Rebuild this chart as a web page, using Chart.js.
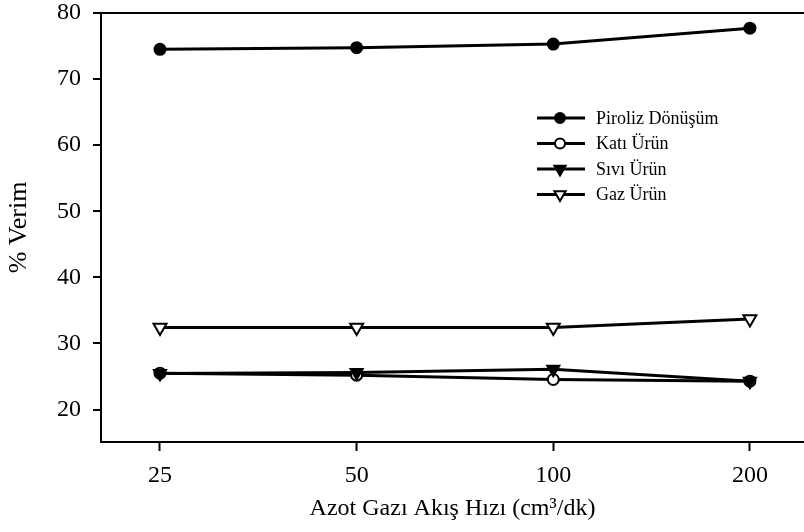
<!DOCTYPE html>
<html>
<head>
<meta charset="utf-8">
<script src="https://cdn.jsdelivr.net/npm/chart.js@4/dist/chart.umd.min.js"></script>
<style>
    html, body { margin: 0; padding: 0; background: #fff; }
    #wrap { width: 804px; height: 532px; }
</style>
</head>
<body>
<div id="wrap"><canvas id="chartVerim" width="804" height="532"></canvas></div>
<script>
    // akış hızları (kategori) ve verim serileri
    const akisHizlari = ['25', '50', '100', '200'];
    const pirolizDonusum = [74.5, 74.75, 75.3, 77.7];
    const katiUrun = [25.5, 25.2, 24.55, 24.3];
    const siviUrun = [25.45, 25.6, 26.1, 24.3];
    const gazUrun = [32.4, 32.4, 32.4, 33.7];
    const verimTicks = [20, 30, 40, 50, 60, 70, 80];

    const FONT = "'Liberation Serif', 'Times New Roman', serif";
    const SIYAH = '#000';

    const noktalar = (seri) => seri.map((v, i) => ({ x: i, y: v }));

    // legend: çizgi + işaret, sağ üst köşede
    const legendCizgili = {
        id: 'legendCizgili',
        afterDraw(chart) {
            const { ctx } = chart;
            const x0 = 537, x1 = 585, xm = 560, xt = 596;
            const satirlar = [118, 143.5, 169, 194.5];
            ctx.save();
            chart.data.datasets.forEach((ds, i) => {
                const y = satirlar[i];
                ctx.strokeStyle = ds.borderColor;
                ctx.lineWidth = 3;
                ctx.beginPath();
                ctx.moveTo(x0, y);
                ctx.lineTo(x1, y);
                ctx.stroke();
                isaretCiz(ctx, ds.pointStyle, xm, y, ds.pointStyle === 'circle' ? 5 : 6.5,
                    ds.pointRotation || 0, ds.pointBackgroundColor, ds.pointBorderColor);
                ctx.fillStyle = SIYAH;
                ctx.font = '18px ' + FONT;
                ctx.textBaseline = 'middle';
                ctx.textAlign = 'left';
                ctx.fillText(ds.label, xt, y + 1);
            });
            ctx.restore();
        }
    };

    function isaretCiz(ctx, stil, x, y, r, rot, dolgu, kenar) {
        ctx.beginPath();
        if (stil === 'circle') {
            ctx.arc(x, y, r, 0, Math.PI * 2);
        } else {
            let rad = rot * Math.PI / 180;
            ctx.moveTo(x + Math.sin(rad) * r, y - Math.cos(rad) * r);
            rad += Math.PI * 2 / 3;
            ctx.lineTo(x + Math.sin(rad) * r, y - Math.cos(rad) * r);
            rad += Math.PI * 2 / 3;
            ctx.lineTo(x + Math.sin(rad) * r, y - Math.cos(rad) * r);
            ctx.closePath();
        }
        ctx.fillStyle = dolgu;
        ctx.fill();
        ctx.lineWidth = 2;
        ctx.strokeStyle = kenar;
        ctx.stroke();
    }

    const seri = (label, data, stil, dolu, extra) => Object.assign({
        label,
        data: noktalar(data),
        borderColor: SIYAH,
        borderWidth: 3,
        pointStyle: stil,
        pointRadius: stil === 'circle' ? 5.5 : 7.5,
        pointBorderWidth: 2,
        pointBackgroundColor: dolu ? SIYAH : '#fff',
        pointBorderColor: SIYAH,
        tension: 0,
        clip: false
    }, extra || {});

    new Chart(document.getElementById('chartVerim'), {
        type: 'line',
        data: {
            datasets: [
                seri('Piroliz Dönüşüm', pirolizDonusum, 'circle', true, { order: 0 }),
                seri('Katı Ürün', katiUrun, 'circle', false, { order: 2 }),
                seri('Sıvı Ürün', siviUrun, 'triangle', true, { pointRotation: 180, pointRadius: 7, order: 1 }),
                seri('Gaz Ürün', gazUrun, 'triangle', false, { pointRotation: 180, order: 3 })
            ]
        },
        options: {
            responsive: false,
            devicePixelRatio: 1,
            animation: false,
            layout: { autoPadding: false, padding: { top: 13, left: 0, right: 0, bottom: 0 } },
            plugins: { legend: { display: false }, tooltip: { enabled: false } },
            scales: {
                x: {
                    type: 'linear',
                    min: -0.3,
                    max: 3.275,
                    afterBuildTicks: (axis) => { axis.ticks = akisHizlari.map((_, i) => ({ value: i })); },
                    afterFit: (axis) => {
                        axis.height = 90;
                        axis.paddingLeft = 0;
                        axis.paddingRight = 0;
                    },
                    ticks: {
                        callback: (v) => akisHizlari[v],
                        color: SIYAH,
                        font: { family: FONT, size: 24 },
                        padding: 10,
                        maxRotation: 0
                    },
                    grid: { drawOnChartArea: false, drawTicks: true, tickLength: 9, tickWidth: 2, tickColor: SIYAH },
                    border: { display: true, color: SIYAH, width: 2 },
                    title: {
                        display: true,
                        text: 'Azot Gazı Akış Hızı (cm³/dk)',
                        color: SIYAH,
                        font: { family: FONT, size: 24 },
                        padding: { top: 0, bottom: 9 }
                    }
                },
                y: {
                    min: 15.09,
                    max: 80,
                    afterBuildTicks: (axis) => { axis.ticks = verimTicks.map(v => ({ value: v })); },
                    afterFit: (axis) => {
                        axis.width = 101;
                        axis.paddingTop = 0;
                        axis.paddingBottom = 0;
                    },
                    ticks: {
                        color: SIYAH,
                        font: { family: FONT, size: 24 },
                        padding: 12
                    },
                    grid: {
                        drawOnChartArea: true,
                        // sadece 80 çizgisi: üst çerçeve
                        color: (c) => (c.tick && c.tick.value === 80 ? SIYAH : 'rgba(0,0,0,0)'),
                        lineWidth: 2,
                        tickLength: 8,
                        tickWidth: 2,
                        tickColor: SIYAH
                    },
                    border: { display: true, color: SIYAH, width: 2 },
                    title: {
                        display: true,
                        text: '% Verim',
                        color: SIYAH,
                        font: { family: FONT, size: 26 },
                        padding: { top: 4, bottom: 0 }
                    }
                }
            }
        },
        plugins: [legendCizgili]
    });
</script>
</body>
</html>
